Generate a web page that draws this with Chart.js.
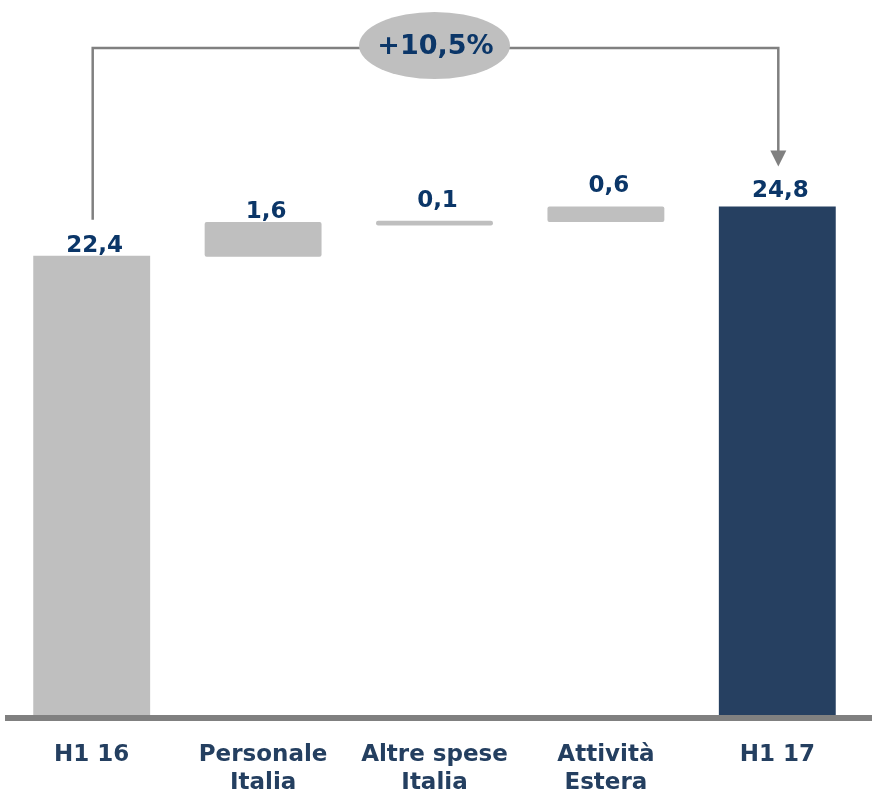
<!DOCTYPE html>
<html>
<head>
<meta charset="utf-8">
<script src="https://cdn.jsdelivr.net/npm/chart.js@4/dist/chart.umd.min.js"></script>
<style>
  html, body { margin: 0; padding: 0; background: #ffffff; }
  #wrap { width: 872px; height: 793px; position: relative; }
</style>
</head>
<body>
<div id="wrap"><canvas id="c" width="872" height="793"></canvas></div>
<script>
// ---- data ----
const categories = ['H1 16', ['Personale', 'Italia'], ['Altre spese', 'Italia'], ['Attività', 'Estera'], 'H1 17'];
const barStart = [0, 22.35, 23.88, 24.05, 0];
const barEnd = [22.4, 24.05, 24.11, 24.8, 24.8];
const valueLabels = ['22,4', '1,6', '0,1', '0,6', '24,8'];
const growthLabel = '+10,5%';

// ---- styles ----
const barColors = ['#BFBFBF', '#BFBFBF', '#BFBFBF', '#BFBFBF', '#264061'];
const labelGap = [4, 4, 14, 15, 10];
const valueColor = '#0B3668';
const axisTextColor = '#243F60';
const lineGray = '#808080';
const FONT = "'DejaVu Sans', Verdana, sans-serif";

const floating = barStart.map((s, i) => [s, barEnd[i]]);

const overlay = {
  id: 'overlay',
  afterDatasetsDraw(chart) {
    const ctx = chart.ctx;
    const meta = chart.getDatasetMeta(0);
    const els = meta.data;
    const base = chart.scales.y.getPixelForValue(0);
    ctx.save();
    // axis line across the width
    ctx.fillStyle = lineGray;
    ctx.fillRect(5, base, 867, 6);

    // value labels
    ctx.font = 'bold 23px ' + FONT;
    ctx.fillStyle = valueColor;
    ctx.textAlign = 'center';
    ctx.textBaseline = 'alphabetic';
    els.forEach((el, i) => {
      const top = Math.min(el.y, el.base);
      ctx.fillText(valueLabels[i], el.x + 3, top - labelGap[i]);
    });

    // connector
    const first = els[0], last = els[els.length - 1];
    const lineY = 48;
    const ex = els[2].x, ey = 45.5, rx = 75.5, ry = 33.5;
    ctx.strokeStyle = lineGray;
    ctx.lineWidth = 2.5;
    ctx.beginPath();
    ctx.moveTo(first.x + 1, Math.min(first.y, first.base) - 36);
    ctx.lineTo(first.x + 1, lineY);
    ctx.lineTo(last.x + 1, lineY);
    ctx.lineTo(last.x + 1, Math.min(last.y, last.base) - 55);
    ctx.stroke();
    // arrow head
    const tipY = Math.min(last.y, last.base) - 40;
    ctx.fillStyle = lineGray;
    ctx.beginPath();
    ctx.moveTo(last.x + 1, tipY);
    ctx.lineTo(last.x + 1 - 8, tipY - 16);
    ctx.lineTo(last.x + 1 + 8, tipY - 16);
    ctx.closePath();
    ctx.fill();

    // ellipse with growth
    ctx.fillStyle = '#BFBFBF';
    ctx.beginPath();
    ctx.ellipse(ex, ey, rx, ry, 0, 0, Math.PI * 2);
    ctx.fill();
    ctx.font = 'bold 27px ' + FONT;
    ctx.fillStyle = valueColor;
    ctx.textAlign = 'center';
    ctx.textBaseline = 'middle';
    ctx.fillText(growthLabel, ex + 1, ey + 1);
    ctx.restore();
  }
};

new Chart(document.getElementById('c'), {
  type: 'bar',
  data: {
    labels: categories,
    datasets: [{
      data: floating,
      backgroundColor: barColors,
      borderWidth: 0,
      borderSkipped: false,
      borderRadius: [0, 2, 2, 2, 0],
      categoryPercentage: 1,
      barPercentage: 0.682
    }]
  },
  options: {
    responsive: false,
    animation: false,
    devicePixelRatio: 1,
    layout: { padding: { top: 18, left: 6, right: 9, bottom: 0 } },
    plugins: { legend: { display: false }, tooltip: { enabled: false } },
    scales: {
      y: { display: false, min: 0, max: 34 },
      x: {
        grid: { display: false, drawTicks: false },
        border: { display: false },
        ticks: {
          padding: 26,
          color: axisTextColor,
          font: { family: FONT, weight: 'bold', size: 23, lineHeight: 28 / 23 },
          maxRotation: 0,
          autoSkip: false
        },
        afterFit(scale) { scale.height = 78; }
      }
    }
  },
  plugins: [overlay]
});
</script>
</body>
</html>
